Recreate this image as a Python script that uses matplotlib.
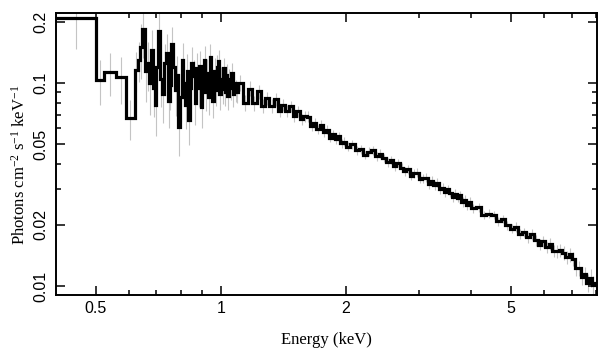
import matplotlib
matplotlib.use("Agg")
import matplotlib.pyplot as plt
import numpy as np
from matplotlib.ticker import FixedLocator, NullFormatter

plt.rcParams['font.family'] = ['Liberation Sans', 'DejaVu Sans']
plt.rcParams['mathtext.fontset'] = 'custom'
plt.rcParams['mathtext.rm'] = 'Liberation Serif'
plt.rcParams['mathtext.it'] = 'Liberation Serif:italic'

# channel edges (keV)
edges = [
    0.400, 0.500, 0.522, 0.558, 0.590, 0.621, 0.632,
    0.6400, 0.6475, 0.6550, 0.6625, 0.6700, 0.6775, 0.6850, 0.6925, 0.7000, 0.7075,
    0.7150, 0.7225, 0.7300, 0.7375, 0.7450, 0.7525, 0.7600, 0.7675, 0.7750, 0.7825,
    0.7900, 0.7975, 0.8050, 0.8125, 0.8200, 0.8275, 0.8350, 0.8425, 0.8500, 0.8575,
    0.8650, 0.8725, 0.8800, 0.8875, 0.8950, 0.9025, 0.9100, 0.9175, 0.9250, 0.9325,
    0.9400, 0.9475, 0.9550, 0.9625, 0.9700, 0.9775, 0.9850, 0.9925, 1.0000, 1.0075,
    1.0150, 1.0225, 1.0300, 1.0375, 1.0450, 1.0525, 1.0600, 1.0675, 1.0750, 1.0825,
    1.0900,
    1.10, 1.13, 1.16, 1.19, 1.22, 1.25, 1.28, 1.31, 1.34, 1.37, 1.40, 1.43,
    1.46, 1.49, 1.52, 1.55, 1.58, 1.61, 1.64, 1.67, 1.70, 1.73, 1.76, 1.79,
    1.82, 1.85, 1.88, 1.91, 1.94, 1.97,
    2.00, 2.05, 2.10, 2.15, 2.20, 2.25, 2.30, 2.35, 2.40, 2.45, 2.50, 2.55,
    2.60, 2.65, 2.70, 2.75, 2.80, 2.85, 2.90, 2.95, 3.00, 3.05, 3.10, 3.15,
    3.20, 3.25, 3.30, 3.35, 3.40, 3.45, 3.50, 3.55, 3.60, 3.65, 3.70, 3.75,
    3.80, 3.85, 3.90, 3.95,
    4.00, 4.12, 4.24, 4.36, 4.48, 4.60, 4.72, 4.84, 4.96, 5.08, 5.20, 5.32,
    5.44, 5.56, 5.68, 5.80, 5.92, 6.04, 6.16, 6.28, 6.40, 6.52, 6.64, 6.76,
    6.88, 7.00, 7.12, 7.24, 7.36, 7.48, 7.60, 7.72, 7.84, 7.96, 8.08,
]

# unfolded flux, photons cm^-2 s^-1 keV^-1
flux = [
    0.210, 0.104, 0.113, 0.107, 0.0675, 0.116, 0.130,
    0.150, 0.185, 0.115, 0.125, 0.100, 0.145, 0.095, 0.078, 0.120, 0.180,
    0.105, 0.088, 0.125, 0.140, 0.082, 0.098, 0.155, 0.120, 0.092, 0.110,
    0.061, 0.085, 0.130, 0.100, 0.078, 0.115, 0.066, 0.095, 0.125, 0.108,
    0.080, 0.118, 0.095, 0.122, 0.076, 0.100, 0.130, 0.090, 0.112, 0.085,
    0.135, 0.098, 0.082, 0.115, 0.092, 0.120, 0.128, 0.088, 0.105, 0.093,
    0.118, 0.090, 0.110, 0.086, 0.105, 0.095, 0.112, 0.088, 0.100, 0.092,
    0.090,
    0.1000, 0.0800, 0.0940, 0.0800, 0.0910, 0.0770, 0.0843, 0.0773, 0.0831, 0.0732,
    0.0781, 0.0731, 0.0770, 0.0686, 0.0726, 0.0662, 0.0686, 0.0684, 0.0612, 0.0635,
    0.0592, 0.0621, 0.0573, 0.0590, 0.0539, 0.0561, 0.0529, 0.0546, 0.0504, 0.0515,
    0.0486, 0.0500, 0.0466, 0.0472, 0.0443, 0.0460, 0.0468, 0.0435, 0.0449, 0.0428,
    0.0407, 0.0418, 0.0390, 0.0404, 0.0383, 0.0367, 0.0377, 0.0350, 0.0360, 0.0362,
    0.0337, 0.0339, 0.0342, 0.0317, 0.0330, 0.0314, 0.0323, 0.0300, 0.0305, 0.0290,
    0.0299, 0.0288, 0.0274, 0.0285, 0.0272, 0.0280, 0.0260, 0.0265, 0.0252, 0.0260,
    0.0242, 0.0244, 0.0224, 0.0227, 0.0224, 0.0208, 0.0214, 0.0199, 0.0192, 0.0196,
    0.0180, 0.0184, 0.0174, 0.0180, 0.0168, 0.0160, 0.0166, 0.0155, 0.0161, 0.0149,
    0.0148, 0.0150, 0.0146, 0.0139, 0.0143, 0.0136, 0.0123, 0.0122, 0.0111, 0.0114,
    0.0104, 0.0110, 0.0101, 0.0104,
]

# relative 1-sigma errors
rel_err = [
    0.30, 0.25, 0.24, 0.26, 0.22, 0.22, 0.22,
    0.30, 0.28, 0.30, 0.27, 0.30, 0.26, 0.28, 0.30, 0.26, 0.25,
    0.27, 0.28, 0.24, 0.24, 0.27, 0.25, 0.22, 0.24, 0.25, 0.23,
    0.28, 0.24, 0.21, 0.23, 0.24, 0.21, 0.25, 0.22, 0.20, 0.20,
    0.22, 0.19, 0.20, 0.18, 0.21, 0.19, 0.17, 0.19, 0.17, 0.18,
    0.16, 0.17, 0.18, 0.15, 0.16, 0.15, 0.14, 0.16, 0.14, 0.15,
    0.13, 0.14, 0.13, 0.14, 0.12, 0.13, 0.12, 0.13, 0.12, 0.12,
    0.11,
    0.09, 0.09, 0.085, 0.085, 0.08, 0.08, 0.075, 0.075, 0.07, 0.07,
    0.07, 0.065, 0.065, 0.065, 0.06, 0.06, 0.06, 0.06, 0.055, 0.055,
    0.055, 0.055, 0.055, 0.05, 0.05, 0.05, 0.05, 0.05, 0.05, 0.05,
    0.05, 0.05, 0.05, 0.05, 0.05, 0.05, 0.05, 0.05, 0.05, 0.05,
    0.05, 0.05, 0.05, 0.05, 0.05, 0.05, 0.05, 0.05, 0.05, 0.05,
    0.05, 0.05, 0.05, 0.05, 0.05, 0.05, 0.05, 0.05, 0.05, 0.05,
    0.05, 0.05, 0.05, 0.05, 0.05, 0.05, 0.055, 0.055, 0.055, 0.055,
    0.05, 0.05, 0.05, 0.05, 0.05, 0.05, 0.05, 0.05, 0.055, 0.055,
    0.055, 0.055, 0.06, 0.06, 0.06, 0.06, 0.065, 0.065, 0.065, 0.07,
    0.07, 0.07, 0.075, 0.075, 0.08, 0.08, 0.085, 0.085, 0.09, 0.09,
    0.10, 0.10, 0.11, 0.11,
]

edges = np.array(edges)
flux = np.array(flux)
rel_err = np.array(rel_err)
centers = np.sqrt(edges[:-1] * edges[1:])

fig, ax = plt.subplots(figsize=(6.09, 3.57), dpi=100)
fig.subplots_adjust(left=0.0913, right=0.980, top=0.9636, bottom=0.1737)

ax.vlines(centers, flux * (1 - rel_err), flux * (1 + rel_err),
          color='#c4c4c4', lw=0.8, zorder=1)
ax.stairs(flux, edges, baseline=None, color='black', lw=2.3, zorder=2)

ax.set_xscale('log')
ax.set_yscale('log')
ax.set_xlim(0.4, 8.05)
ax.set_ylim(0.00903, 0.2215)

ax.xaxis.set_major_locator(FixedLocator([0.5, 1, 2, 5]))
ax.xaxis.set_minor_locator(FixedLocator([0.6, 0.7, 0.8, 0.9, 3, 4, 6, 7, 8]))
ax.set_xticklabels(['0.5', '1', '2', '5'])
ax.xaxis.set_minor_formatter(NullFormatter())
ax.yaxis.set_major_locator(FixedLocator([0.01, 0.02, 0.05, 0.1, 0.2]))
ax.yaxis.set_minor_locator(FixedLocator([0.03, 0.04, 0.06, 0.07, 0.08, 0.09]))
ax.set_yticklabels(['0.01', '0.02', '0.05', '0.1', '0.2'])
ax.yaxis.set_minor_formatter(NullFormatter())

ax.tick_params(which='both', direction='in', top=True, right=True, width=1.1,
               labelsize=11.5)
ax.tick_params(which='major', length=6.5)
ax.tick_params(which='minor', length=3.5)
ax.tick_params(axis='x', pad=4.5)
ax.tick_params(axis='y', pad=5.5)
for lab in ax.get_yticklabels():
    lab.set_rotation(90)
    lab.set_va('center')
for s in ax.spines.values():
    s.set_linewidth(1.4)

ax.set_xlabel('Energy (keV)', family='Liberation Serif', fontsize=12, labelpad=11)
ax.set_ylabel(r'Photons cm$^{-2}$ s$^{-1}$ keV$^{-1}$', family='Liberation Serif',
              fontsize=12)
ax.yaxis.set_label_coords(-0.05, 0.46)

fig.savefig('out.png', dpi=100)
